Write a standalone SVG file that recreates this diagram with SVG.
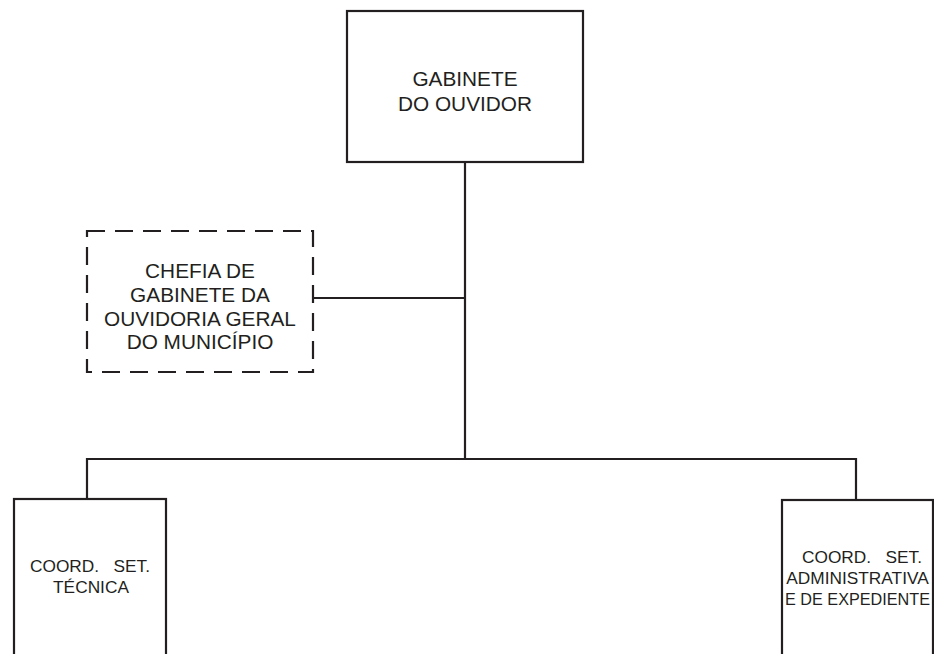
<svg xmlns="http://www.w3.org/2000/svg" width="934" height="654" viewBox="0 0 934 654">
<style>
.box{fill:#fff;stroke:#231f20;stroke-width:2.2}
.dash{fill:#fff;stroke:#231f20;stroke-width:2.2;stroke-dasharray:18 10}
.conn{fill:none;stroke:#231f20;stroke-width:2.2}
text{font-family:"Liberation Sans",Arial,sans-serif;fill:#231f20;text-anchor:middle}
.big{font-size:20.8px}
.sm{font-size:17.3px}
</style>
<rect width="934" height="654" fill="#fff"/>
<g id="connectors">
<path class="conn" d="M465 162 V459"/>
<path class="conn" d="M313 298 H465"/>
<path class="conn" d="M87 499 V459 H856 V500"/>
</g>
<g id="gabinete">
<rect class="box" x="347" y="11" width="236" height="151"/>
<text class="big" x="465" y="86">GABINETE</text>
<text class="big" x="465" y="111">DO OUVIDOR</text>
</g>
<g id="chefia">
<rect class="dash" x="87" y="231" width="226" height="141"/>
<text class="big" x="200" y="278">CHEFIA DE</text>
<text class="big" x="200" y="302">GABINETE DA</text>
<text class="big" x="200" y="326">OUVIDORIA GERAL</text>
<text class="big" x="200" y="349">DO MUNICÍPIO</text>
</g>
<g id="tecnica">
<rect class="box" x="14" y="499" width="152" height="170"/>
<text class="sm" x="90" y="572" xml:space="preserve">COORD.   SET.</text>
<text class="sm" x="91" y="593">TÉCNICA</text>
</g>
<g id="administrativa">
<rect class="box" x="782" y="500" width="151" height="170"/>
<text class="sm" x="862" y="563" xml:space="preserve">COORD.   SET.</text>
<text class="sm" x="857.5" y="584">ADMINISTRATIVA</text>
<text class="sm" x="857.5" y="605" textLength="145" lengthAdjust="spacingAndGlyphs">E DE EXPEDIENTE</text>
</g>
</svg>
